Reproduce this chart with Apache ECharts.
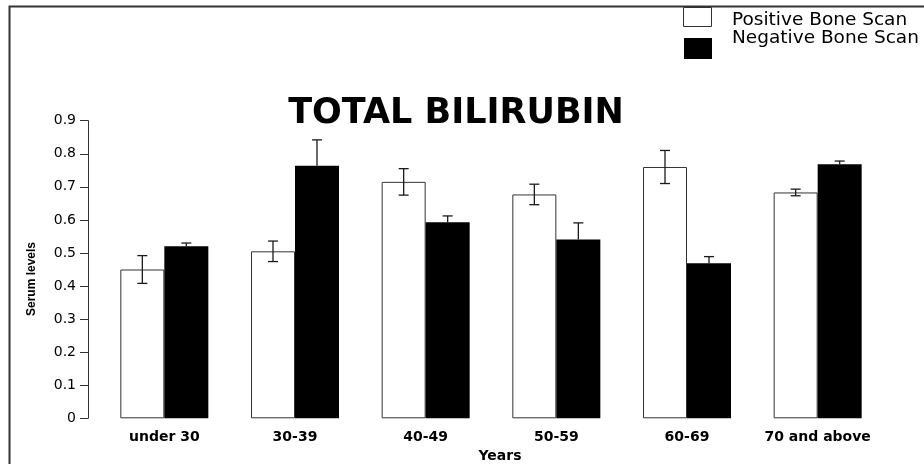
<!DOCTYPE html>
<html>
<head>
<meta charset="utf-8">
<script src="https://cdn.jsdelivr.net/npm/echarts@6/dist/echarts.min.js"></script>
<style>
  html, body { margin: 0; padding: 0; background: #fff; }
  #chart { width: 924px; height: 464px; }
</style>
</head>
<body>
<div id="chart"></div>
<script>
  // age groups and serum levels (mean, error)
  const categories = ['under 30', '30-39', '40-49', '50-59', '60-69', '70 and above']
  const seriesNames = ['Positive Bone Scan', 'Negative Bone Scan']
  const positiveMean = [0.45, 0.505, 0.715, 0.677, 0.76, 0.683]
  const positiveErr = [0.042, 0.031, 0.04, 0.031, 0.05, 0.01]
  const negativeMean = [0.52, 0.764, 0.593, 0.541, 0.469, 0.768]
  const negativeErr = [0.01, 0.078, 0.019, 0.05, 0.02, 0.01]
  const yTicks = [0, 0.1, 0.2, 0.3, 0.4, 0.5, 0.6, 0.7, 0.8, 0.9]

  const font = 'DejaVu Sans'
  const barWidth = 44

  // side: -1 left bar, 1 right bar; upOnly hides the half that sits inside a black bar
  function errorBars (means, errs, side, upOnly) {
    return {
      type: 'custom',
      silent: true,
      z: 5,
      data: means.map((m, i) => [i, m, errs[i]]),
      renderItem (params, api) {
        const i = api.value(0)
        const m = api.value(1)
        const e = api.value(2)
        const top = api.coord([i, m + e])
        const mid = api.coord([i, m])
        const bot = api.coord([i, m - e])
        const x = top[0] + side * barWidth / 2
        const cap = 5
        const style = { stroke: '#1a1a1a', lineWidth: 1.3 }
        const lowY = upOnly ? mid[1] : bot[1]
        const kids = [
          { type: 'line', shape: { x1: x, y1: top[1], x2: x, y2: lowY }, style },
          { type: 'line', shape: { x1: x - cap, y1: top[1], x2: x + cap, y2: top[1] }, style }
        ]
        if (!upOnly) {
          kids.push({ type: 'line', shape: { x1: x - cap, y1: bot[1], x2: x + cap, y2: bot[1] }, style })
        }
        return { type: 'group', children: kids }
      }
    }
  }

  const option = {
    animation: false,
    backgroundColor: '#fff',
    title: {
      text: 'TOTAL BILIRUBIN',
      left: 451,
      top: 91,
      textAlign: 'center',
      textStyle: { fontFamily: font, fontWeight: 'bold', fontSize: 35, color: '#000' }
    },
    grid: { left: 99, right: 41, top: 120.7, bottom: 45.7, containLabel: false, outerBoundsMode: 'none' },
    xAxis: {
      type: 'category',
      data: categories,
      name: 'Years',
      nameLocation: 'middle',
      nameGap: 31,
      nameTextStyle: { fontFamily: font, fontWeight: 'bold', fontSize: 14, color: '#000', padding: [0, 0, 0, 18] },
      axisLine: { show: false },
      axisTick: { show: false },
      axisLabel: { interval: 0, fontFamily: font, fontWeight: 'bold', fontSize: 14, color: '#000', margin: 12 }
    },
    yAxis: {
      type: 'value',
      min: 0,
      max: 0.9,
      interval: 0.1,
      offset: 11,
      splitLine: { show: false },
      axisLine: { show: true, lineStyle: { color: '#333', width: 1 } },
      axisTick: { show: true, length: 8, lineStyle: { color: '#333' } },
      axisLabel: {
        fontFamily: font, fontSize: 14, color: '#000', margin: 12,
        formatter: v => yTicks.includes(+v.toFixed(1)) ? String(+v.toFixed(1)) : ''
      }
    },
    series: [
      {
        name: seriesNames[0],
        type: 'bar',
        data: positiveMean,
        barWidth: barWidth,
        barGap: '0%',
        itemStyle: { color: '#fff', borderColor: '#333', borderWidth: 1 }
      },
      {
        name: seriesNames[1],
        type: 'bar',
        data: negativeMean,
        barWidth: barWidth,
        barGap: '0%',
        itemStyle: { color: '#000', borderColor: '#000', borderWidth: 0 }
      },
      errorBars(positiveMean, positiveErr, -1, false),
      errorBars(negativeMean, negativeErr, 1, true)
    ],
    graphic: [
      // outer frame (only left and top edges fall inside the canvas)
      { type: 'rect', shape: { x: 9.5, y: 6.5, width: 940, height: 480 }, style: { fill: null, stroke: '#333', lineWidth: 2 }, z: -1 },
      {
        type: 'text', x: 32, y: 279, rotation: Math.PI / 2,
        style: { text: 'Serum levels', fontFamily: 'Liberation Sans', fontWeight: 'bold', fontSize: 12, fill: '#000', align: 'center', verticalAlign: 'middle' }
      },
      { type: 'rect', shape: { x: 683.5, y: 7.5, width: 28, height: 19 }, style: { fill: '#fff', stroke: '#333', lineWidth: 1 }, z: 10 },
      { type: 'rect', shape: { x: 684, y: 38, width: 28, height: 21 }, style: { fill: '#000' }, z: 10 },
      { type: 'text', x: 732, y: 20.5, style: { text: seriesNames[0], fontFamily: font, fontSize: 18.5, fill: '#000', verticalAlign: 'middle' }, z: 10 },
      { type: 'text', x: 732, y: 38.5, style: { text: seriesNames[1], fontFamily: font, fontSize: 18.5, fill: '#000', verticalAlign: 'middle' }, z: 10 }
    ]
  }

  const myChart = echarts.init(document.getElementById('chart'))
  myChart.setOption(option)
</script>
</body>
</html>
